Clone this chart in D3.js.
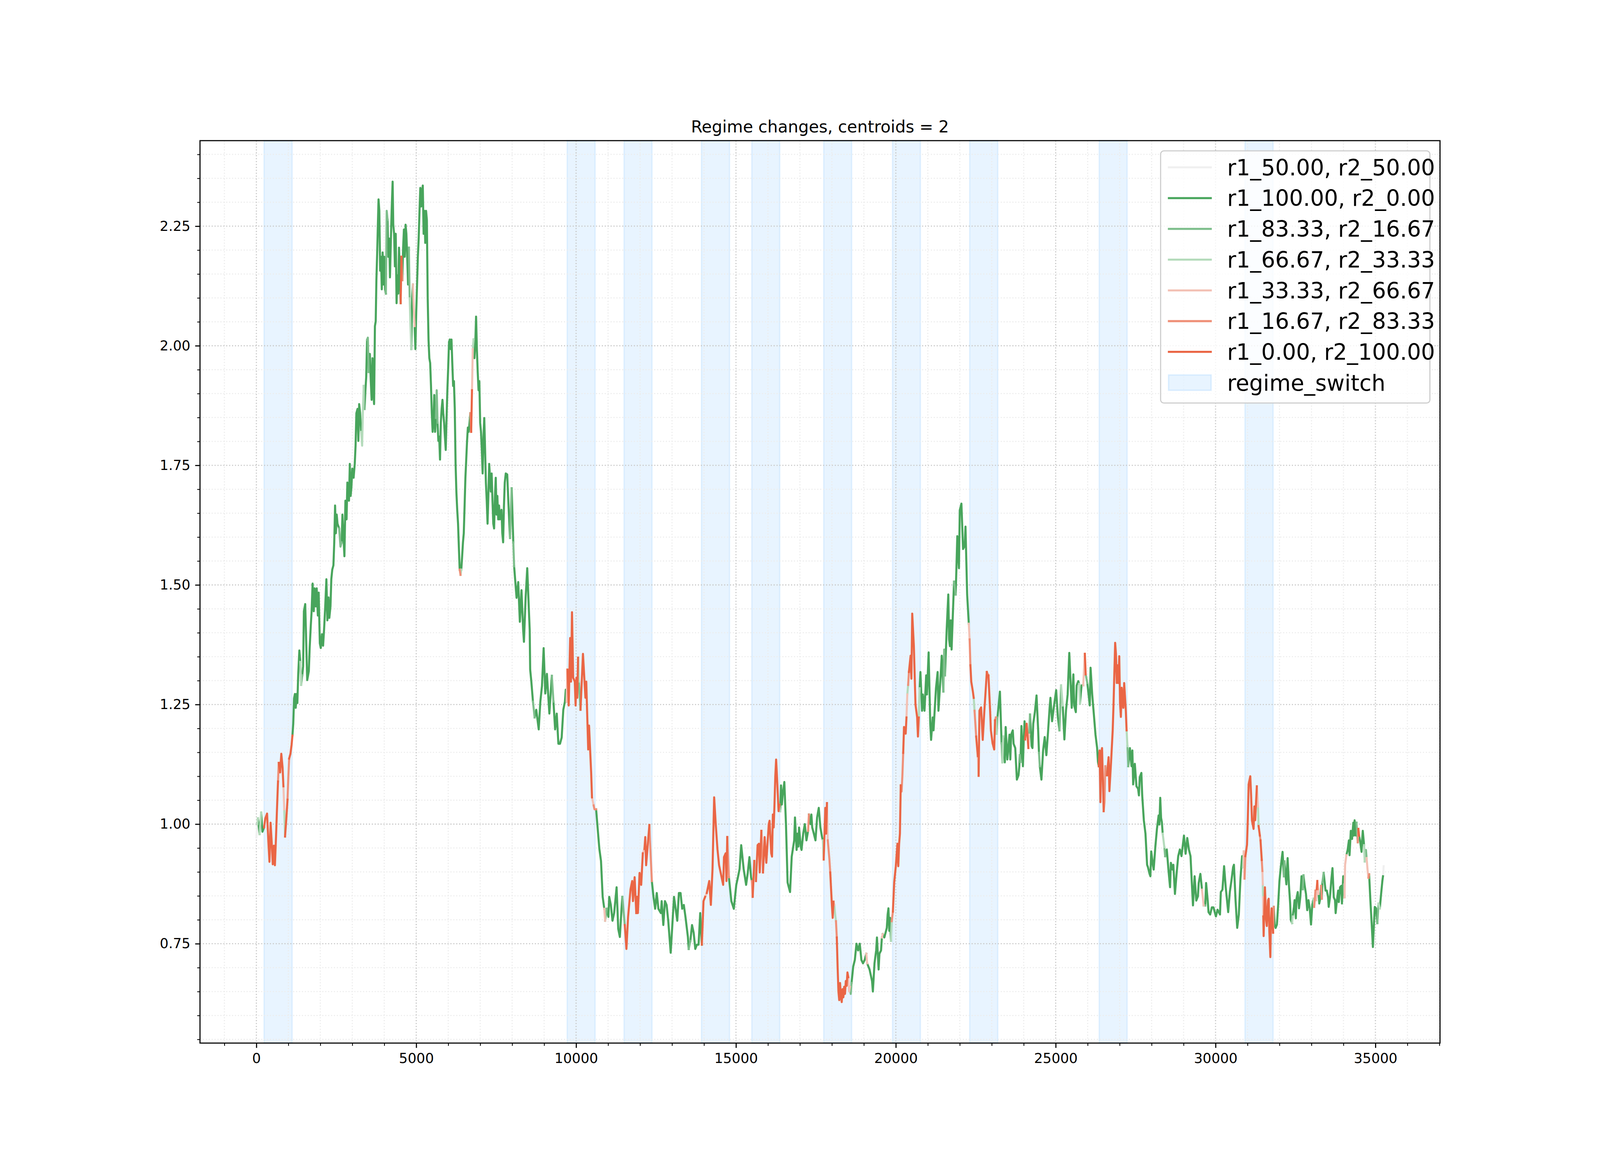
<!DOCTYPE html>
<html><head><meta charset="utf-8">
<script src="https://cdn.jsdelivr.net/npm/d3@7/dist/d3.min.js"></script>
<style>html,body{margin:0;padding:0;background:#fff;overflow:hidden}svg{display:block}</style>
</head><body>
<svg id="chart"></svg>
<script>
// ---------------- data ----------------
const chartTitle = "Regime changes, centroids = 2";
const seriesLabels = ["r1_50.00, r2_50.00","r1_100.00, r2_0.00","r1_83.33, r2_16.67","r1_66.67, r2_33.33","r1_33.33, r2_66.67","r1_16.67, r2_83.33","r1_0.00, r2_100.00"];
const seriesColors = ["#f0f0f0","#48a55c","#7dbe8b","#b4dbbb","#f3c1b5","#ef9078","#ea6645"];
const spanLabel = "regime_switch";
const switchStart = [240, 9720, 11500, 13920, 15495, 17745, 19895, 22310, 26360, 30920];
const switchEnd   = [1120, 10595, 12375, 14800, 16370, 18620, 20770, 23190, 27235, 31800];
const xTickValues = [0, 5000, 10000, 15000, 20000, 25000, 30000, 35000];
const yTickValues = [0.75, 1.00, 1.25, 1.50, 1.75, 2.00, 2.25];

// price path [sample index, value]
const trace0to7800 = [[0,0.972],[30,1.000],[50,1.012],[100,0.979],[150,1.024],[190,0.984],[240,0.993],[280,1.012],[335,1.022],[375,0.964],[410,0.921],[445,1.003],[478,0.964],[513,0.916],[548,0.955],[580,0.914],[615,0.974],[640,1.022],[677,1.089],[700,1.128],[743,1.108],[780,1.147],[820,1.118],[846,1.079],[872,1.031],[897,0.974],[938,1.012],[974,1.051],[1000,1.099],[1026,1.137],[1066,1.147],[1102,1.166],[1128,1.185],[1154,1.210],[1180,1.263],[1205,1.272],[1231,1.243],[1257,1.272],[1282,1.253],[1308,1.311],[1344,1.363],[1374,1.339],[1400,1.291],[1436,1.311],[1462,1.330],[1487,1.445],[1528,1.460],[1564,1.368],[1590,1.301],[1615,1.310],[1641,1.320],[1667,1.368],[1703,1.416],[1728,1.445],[1759,1.503],[1795,1.445],[1820,1.493],[1856,1.455],[1887,1.493],[1923,1.436],[1949,1.484],[1985,1.378],[2015,1.368],[2051,1.397],[2087,1.373],[2118,1.407],[2154,1.455],[2190,1.512],[2221,1.426],[2256,1.474],[2282,1.431],[2318,1.455],[2344,1.512],[2374,1.532],[2410,1.541],[2436,1.589],[2462,1.666],[2487,1.608],[2513,1.647],[2538,1.628],[2590,1.618],[2631,1.580],[2667,1.589],[2692,1.647],[2718,1.608],[2754,1.560],[2785,1.676],[2821,1.637],[2846,1.714],[2872,1.705],[2897,1.676],[2923,1.753],[2949,1.686],[2974,1.705],[3000,1.743],[3041,1.724],[3077,1.753],[3103,1.791],[3128,1.859],[3164,1.868],[3190,1.801],[3215,1.878],[3246,1.859],[3277,1.820],[3308,1.791],[3333,1.868],[3359,1.916],[3385,1.868],[3410,1.906],[3436,1.935],[3462,2.012],[3487,2.017],[3513,1.945],[3549,1.983],[3579,1.926],[3605,1.887],[3631,1.974],[3656,1.907],[3682,1.878],[3708,2.041],[3733,2.051],[3754,2.137],[3779,2.195],[3795,2.238],[3821,2.306],[3846,2.282],[3872,2.157],[3897,2.186],[3923,2.118],[3949,2.195],[3974,2.128],[4000,2.186],[4026,2.118],[4051,2.109],[4077,2.282],[4103,2.263],[4128,2.186],[4154,2.224],[4179,2.143],[4205,2.215],[4231,2.282],[4262,2.343],[4282,2.253],[4308,2.234],[4333,2.166],[4359,2.234],[4385,2.089],[4410,2.147],[4436,2.109],[4462,2.205],[4487,2.157],[4513,2.089],[4538,2.186],[4564,2.137],[4590,2.205],[4615,2.243],[4641,2.186],[4667,2.253],[4692,2.234],[4718,2.186],[4744,2.128],[4769,2.205],[4795,2.099],[4821,2.041],[4846,1.993],[4872,2.099],[4897,2.128],[4923,2.080],[4949,2.041],[4974,1.993],[5000,2.070],[5026,2.128],[5051,2.186],[5077,2.224],[5103,2.282],[5128,2.330],[5154,2.291],[5179,2.320],[5205,2.335],[5231,2.234],[5256,2.282],[5282,2.215],[5308,2.282],[5333,2.263],[5359,2.099],[5385,2.012],[5410,1.974],[5436,1.964],[5462,1.916],[5487,1.859],[5513,1.820],[5538,1.839],[5564,1.897],[5590,1.820],[5615,1.849],[5641,1.907],[5667,1.839],[5692,1.801],[5718,1.810],[5744,1.762],[5769,1.839],[5795,1.868],[5821,1.887],[5846,1.859],[5872,1.839],[5897,1.810],[5923,1.782],[5949,1.849],[5974,1.907],[6000,1.955],[6026,2.008],[6051,2.013],[6077,1.993],[6103,2.013],[6128,1.964],[6154,1.916],[6179,1.926],[6205,1.869],[6231,1.753],[6256,1.694],[6282,1.657],[6308,1.628],[6333,1.580],[6359,1.532],[6385,1.521],[6410,1.532],[6436,1.560],[6462,1.589],[6487,1.608],[6513,1.666],[6538,1.724],[6564,1.762],[6590,1.801],[6615,1.829],[6641,1.820],[6667,1.839],[6692,1.859],[6718,1.820],[6744,1.907],[6769,1.993],[6795,2.013],[6821,1.974],[6846,2.003],[6872,2.061],[6897,1.993],[6923,1.945],[6949,1.907],[6974,1.926],[7000,1.839],[7026,1.820],[7051,1.782],[7077,1.733],[7103,1.810],[7128,1.849],[7154,1.782],[7179,1.714],[7205,1.676],[7231,1.628],[7256,1.686],[7282,1.753],[7308,1.724],[7333,1.695],[7359,1.733],[7385,1.676],[7410,1.628],[7436,1.618],[7462,1.686],[7487,1.724],[7513,1.647],[7538,1.686],[7564,1.637],[7590,1.666],[7615,1.637],[7667,1.657],[7692,1.608],[7718,1.589],[7744,1.666],[7769,1.714],[7800,1.733]];
const trace7800to15700 = [[7846,1.731],[7882,1.673],[7933,1.598],[7985,1.702],[8036,1.589],[8062,1.539],[8138,1.473],[8190,1.506],[8241,1.423],[8292,1.489],[8344,1.406],[8369,1.381],[8421,1.473],[8472,1.535],[8523,1.448],[8549,1.406],[8564,1.323],[8600,1.298],[8651,1.256],[8703,1.223],[8754,1.239],[8831,1.198],[8882,1.256],[8933,1.289],[8985,1.368],[9036,1.273],[9087,1.314],[9164,1.231],[9241,1.310],[9292,1.256],[9344,1.198],[9395,1.231],[9446,1.168],[9497,1.168],[9549,1.181],[9600,1.239],[9651,1.256],[9677,1.281],[9703,1.256],[9728,1.323],[9769,1.248],[9815,1.389],[9841,1.298],[9872,1.443],[9908,1.306],[9959,1.298],[9985,1.248],[10010,1.306],[10036,1.264],[10062,1.348],[10087,1.298],[10138,1.239],[10215,1.356],[10292,1.264],[10318,1.298],[10379,1.156],[10405,1.206],[10472,1.106],[10497,1.056],[10549,1.039],[10574,1.031],[10626,1.031],[10677,0.989],[10728,0.948],[10779,0.923],[10831,0.848],[10882,0.823],[10908,0.798],[10959,0.823],[11010,0.806],[11036,0.848],[11087,0.831],[11138,0.798],[11190,0.814],[11267,0.868],[11318,0.781],[11369,0.764],[11421,0.823],[11446,0.848],[11523,0.789],[11574,0.739],[11626,0.806],[11703,0.864],[11754,0.881],[11779,0.839],[11831,0.889],[11882,0.814],[11908,0.848],[11933,0.814],[11985,0.898],[12036,0.873],[12087,0.939],[12138,0.948],[12164,0.973],[12190,0.914],[12241,0.956],[12292,0.998],[12318,0.956],[12369,0.881],[12421,0.848],[12472,0.823],[12523,0.856],[12574,0.823],[12651,0.814],[12677,0.839],[12728,0.789],[12779,0.839],[12831,0.831],[12882,0.798],[12959,0.731],[13010,0.789],[13062,0.848],[13113,0.823],[13164,0.798],[13215,0.856],[13267,0.856],[13318,0.823],[13369,0.831],[13421,0.806],[13497,0.764],[13523,0.739],[13574,0.756],[13626,0.789],[13677,0.773],[13728,0.739],[13779,0.748],[13831,0.748],[13882,0.814],[13933,0.748],[13985,0.839],[14036,0.848],[14087,0.856],[14164,0.881],[14215,0.831],[14267,0.906],[14318,1.056],[14369,0.998],[14421,0.948],[14472,0.914],[14523,0.898],[14600,0.873],[14626,0.931],[14677,0.939],[14703,0.881],[14728,0.973],[14779,0.889],[14856,0.839],[14933,0.823],[15010,0.873],[15062,0.889],[15113,0.906],[15164,0.956],[15241,0.906],[15318,0.873],[15369,0.898],[15421,0.931],[15472,0.889],[15497,0.881],[15523,0.848],[15574,0.923],[15626,0.881],[15677,0.956]];
const trace15700to23500 = [[15718,0.959],[15744,0.899],[15795,0.986],[15846,0.899],[15897,0.973],[15949,0.919],[16026,1.000],[16051,1.007],[16103,0.939],[16128,0.932],[16154,1.020],[16180,0.993],[16205,1.041],[16231,1.101],[16256,1.135],[16282,1.101],[16333,1.027],[16359,1.041],[16385,1.027],[16410,1.081],[16436,1.041],[16462,1.061],[16513,1.088],[16564,1.000],[16615,0.878],[16641,0.871],[16692,0.858],[16744,0.932],[16821,0.966],[16846,1.014],[16897,0.946],[16923,0.980],[16949,0.953],[16974,0.993],[17026,0.953],[17051,0.946],[17103,0.980],[17154,1.000],[17205,0.966],[17256,0.986],[17282,1.020],[17333,1.000],[17359,1.020],[17385,0.993],[17436,0.980],[17487,0.966],[17538,1.014],[17590,1.034],[17641,0.993],[17692,0.973],[17718,0.966],[17744,0.926],[17795,1.034],[17821,0.980],[17846,1.044],[17872,0.966],[17923,0.926],[17949,0.899],[18000,0.831],[18026,0.804],[18051,0.838],[18077,0.831],[18103,0.811],[18128,0.797],[18154,0.763],[18180,0.700],[18205,0.650],[18230,0.632],[18256,0.668],[18282,0.640],[18308,0.628],[18334,0.655],[18359,0.638],[18385,0.660],[18410,0.645],[18436,0.672],[18462,0.662],[18487,0.690],[18513,0.680],[18539,0.650],[18564,0.660],[18590,0.645],[18615,0.668],[18667,0.702],[18718,0.716],[18769,0.750],[18821,0.736],[18872,0.750],[18923,0.716],[18974,0.709],[19026,0.716],[19077,0.729],[19103,0.709],[19179,0.696],[19256,0.672],[19282,0.650],[19333,0.709],[19385,0.736],[19410,0.763],[19462,0.696],[19487,0.729],[19538,0.736],[19564,0.763],[19590,0.770],[19641,0.763],[19718,0.783],[19744,0.811],[19769,0.824],[19795,0.777],[19821,0.804],[19846,0.756],[19872,0.797],[19908,0.817],[19949,0.878],[20000,0.912],[20051,0.959],[20077,0.912],[20103,0.959],[20128,0.980],[20154,1.081],[20180,1.068],[20205,1.101],[20231,1.149],[20256,1.203],[20308,1.189],[20333,1.223],[20359,1.271],[20385,1.291],[20410,1.318],[20462,1.352],[20487,1.304],[20513,1.440],[20564,1.372],[20615,1.250],[20667,1.223],[20692,1.183],[20718,1.223],[20744,1.284],[20769,1.318],[20821,1.237],[20846,1.271],[20897,1.237],[20949,1.311],[20974,1.271],[21026,1.359],[21077,1.210],[21103,1.176],[21154,1.223],[21179,1.196],[21256,1.284],[21308,1.318],[21333,1.237],[21385,1.291],[21436,1.352],[21487,1.277],[21513,1.365],[21538,1.311],[21590,1.406],[21641,1.480],[21667,1.386],[21692,1.372],[21718,1.426],[21744,1.365],[21821,1.507],[21872,1.480],[21923,1.602],[21974,1.535],[22000,1.656],[22051,1.670],[22103,1.575],[22154,1.582],[22179,1.622],[22231,1.480],[22282,1.419],[22308,1.386],[22333,1.332],[22359,1.298],[22410,1.277],[22436,1.264],[22462,1.237],[22513,1.183],[22564,1.142],[22590,1.101],[22615,1.237],[22667,1.244],[22718,1.176],[22769,1.237],[22821,1.291],[22846,1.318],[22897,1.311],[22949,1.237],[22974,1.196],[23026,1.169],[23077,1.156],[23103,1.217],[23128,1.223],[23154,1.189],[23179,1.223],[23256,1.277],[23308,1.169],[23333,1.129],[23359,1.183],[23410,1.129],[23436,1.203],[23487,1.135]];
const trace23500to31300 = [[23555,1.187],[23581,1.135],[23607,1.187],[23658,1.196],[23683,1.168],[23735,1.159],[23786,1.093],[23837,1.102],[23863,1.121],[23878,1.144],[23899,1.130],[23929,1.205],[23975,1.121],[24001,1.177],[24027,1.215],[24042,1.177],[24093,1.210],[24145,1.159],[24170,1.187],[24196,1.229],[24247,1.163],[24273,1.159],[24298,1.210],[24349,1.234],[24401,1.269],[24452,1.196],[24477,1.149],[24503,1.121],[24554,1.093],[24606,1.154],[24657,1.182],[24708,1.144],[24759,1.191],[24810,1.243],[24836,1.264],[24887,1.215],[24939,1.243],[25015,1.280],[25067,1.224],[25118,1.196],[25169,1.290],[25220,1.248],[25272,1.177],[25323,1.238],[25374,1.271],[25425,1.358],[25477,1.280],[25502,1.243],[25553,1.313],[25579,1.248],[25630,1.234],[25656,1.290],[25707,1.299],[25733,1.293],[25758,1.252],[25809,1.290],[25861,1.290],[25912,1.356],[25938,1.313],[25989,1.295],[26066,1.248],[26091,1.327],[26142,1.271],[26194,1.229],[26245,1.187],[26296,1.159],[26322,1.130],[26347,1.121],[26373,1.154],[26399,1.046],[26424,1.149],[26450,1.159],[26501,1.027],[26527,1.046],[26552,1.121],[26604,1.102],[26655,1.140],[26680,1.069],[26732,1.130],[26783,1.196],[26808,1.248],[26860,1.379],[26885,1.356],[26911,1.295],[26937,1.332],[26962,1.295],[26988,1.351],[27013,1.252],[27039,1.224],[27065,1.285],[27116,1.243],[27142,1.295],[27193,1.238],[27218,1.196],[27244,1.163],[27270,1.121],[27321,1.159],[27372,1.121],[27398,1.154],[27423,1.083],[27475,1.126],[27526,1.079],[27577,1.074],[27603,1.060],[27629,1.098],[27680,1.107],[27706,1.060],[27757,1.008],[27808,0.980],[27859,0.915],[27885,0.910],[27936,0.896],[27962,0.891],[27988,0.943],[28039,0.915],[28065,0.905],[28116,0.952],[28167,0.990],[28219,1.018],[28244,0.999],[28270,1.055],[28296,1.013],[28321,1.004],[28347,0.980],[28398,0.952],[28424,0.933],[28475,0.947],[28526,0.905],[28577,0.868],[28603,0.919],[28654,0.905],[28680,0.915],[28730,0.854],[28781,0.896],[28832,0.933],[28884,0.947],[28935,0.933],[29012,0.976],[29063,0.938],[29115,0.971],[29166,0.947],[29217,0.933],[29268,0.863],[29294,0.830],[29345,0.891],[29397,0.840],[29448,0.849],[29473,0.877],[29525,0.896],[29576,0.863],[29627,0.830],[29678,0.830],[29704,0.877],[29755,0.840],[29780,0.816],[29832,0.811],[29883,0.826],[29934,0.826],[30011,0.807],[30062,0.821],[30139,0.811],[30165,0.858],[30216,0.863],[30267,0.912],[30318,0.868],[30395,0.816],[30446,0.858],[30497,0.882],[30549,0.910],[30575,0.915],[30626,0.840],[30677,0.783],[30728,0.811],[30779,0.886],[30830,0.933],[30856,0.910],[30881,0.943],[30907,0.886],[30933,0.933],[30984,0.957],[31010,1.013],[31035,1.083],[31086,1.100],[31112,1.060],[31138,1.008],[31189,0.990],[31215,1.037],[31240,1.008],[31291,1.079]];
const trace31300to35257 = [[31307,1.064],[31327,1.037],[31346,0.996],[31386,0.976],[31406,0.966],[31445,0.925],[31465,0.902],[31477,0.874],[31485,0.847],[31493,0.807],[31504,0.766],[31544,0.868],[31583,0.800],[31603,0.787],[31642,0.841],[31662,0.844],[31682,0.776],[31714,0.722],[31729,0.790],[31753,0.824],[31781,0.790],[31800,0.773],[31820,0.827],[31848,0.790],[31879,0.783],[31919,0.790],[31958,0.831],[31998,0.881],[32037,0.908],[32077,0.932],[32096,0.942],[32136,0.891],[32156,0.922],[32195,0.888],[32215,0.874],[32254,0.929],[32294,0.874],[32333,0.834],[32353,0.800],[32393,0.793],[32412,0.807],[32452,0.827],[32472,0.841],[32511,0.803],[32531,0.844],[32571,0.858],[32610,0.824],[32650,0.847],[32689,0.891],[32729,0.864],[32749,0.893],[32788,0.871],[32828,0.854],[32867,0.820],[32907,0.841],[32946,0.824],[32986,0.790],[33025,0.831],[33065,0.844],[33085,0.827],[33124,0.861],[33144,0.841],[33164,0.864],[33183,0.881],[33203,0.864],[33223,0.854],[33243,0.834],[33282,0.847],[33302,0.871],[33322,0.844],[33341,0.878],[33381,0.898],[33440,0.861],[33480,0.861],[33519,0.847],[33539,0.827],[33578,0.847],[33618,0.881],[33657,0.908],[33697,0.847],[33736,0.841],[33756,0.814],[33796,0.841],[33835,0.861],[33855,0.837],[33894,0.868],[33934,0.871],[33953,0.834],[33993,0.891],[34013,0.874],[34033,0.847],[34052,0.915],[34092,0.935],[34131,0.946],[34171,0.966],[34191,0.935],[34230,0.986],[34270,0.969],[34309,1.003],[34329,0.976],[34349,1.008],[34388,0.976],[34408,1.003],[34447,0.962],[34467,0.990],[34487,0.976],[34526,0.962],[34566,0.942],[34586,0.969],[34605,0.986],[34645,0.956],[34664,0.922],[34704,0.946],[34724,0.929],[34763,0.898],[34783,0.888],[34803,0.895],[34842,0.841],[34882,0.793],[34921,0.743],[34941,0.773],[34980,0.827],[35020,0.824],[35059,0.793],[35099,0.834],[35138,0.824],[35178,0.854],[35217,0.881],[35237,0.891],[35257,0.912]];

// regime of each stretch: [first sample index, series number]
const regimeRuns = [[0,0],[20,3],[50,1],[100,3],[150,1],[240,6],[677,5],[700,6],[846,4],[872,3],[897,6],[974,5],[1026,6],[1128,1],[1374,3],[1400,2],[1436,1],[2590,2],[2667,1],[3277,3],[3359,2],[3385,1],[3462,2],[3513,1],[4051,2],[4103,1],[4513,6],[4538,5],[4564,1],[4769,2],[4795,3],[4846,1],[4897,4],[4949,1],[5615,2],[5667,1],[6359,5],[6385,3],[6410,1],[6692,5],[6718,6],[6744,4],[6769,3],[6795,1],
[7933,2],[7985,1],[8036,2],[8062,1],[8651,2],[8703,1],[9241,2],[9292,1],[9703,4],[9728,6],[10062,3],[10087,2],[10138,6],[10497,4],[10549,5],[10626,1],[10882,4],[10908,2],[10959,1],[11446,2],[11523,6],[11882,4],[11908,6],[12087,4],[12138,6],[12292,5],[12369,1],[13523,2],[13574,1],[13933,6],[14036,4],[14087,6],[14728,5],[14779,1],
[15497,5],[15523,6],[15574,3],[15626,6],[15795,5],[15846,6],[16359,3],[16385,1],[17256,5],[17282,1],[17718,3],[17744,6],[17846,4],[17872,5],[17949,6],[18051,4],[18077,3],[18128,5],[18154,6],[18513,4],[18564,2],[18615,1],[19077,4],[19103,1],[19564,4],[19590,1],[19846,3],[19872,5],[19908,6],[20154,5],[20231,6],[20333,4],[20359,3],[20385,5],[20410,6],[20718,3],[20744,1],[21487,2],[21538,1],[21821,2],[21872,1],[22282,4],[22308,5],[22333,6],[22436,3],[22462,5],[22513,6],[22564,4],[22590,6],[22846,5],[22897,6],[23103,5],[23128,3],[23154,2],[23179,1],[23308,2],[23333,3],[23359,1],
[23878,2],[23899,1],[24042,6],[24145,4],[24170,2],[24196,1],[24477,2],[24503,1],[25118,2],[25169,3],[25220,1],[25733,3],[25758,1],[25861,4],[25912,6],[25938,2],[25989,1],[26347,6],[26501,5],[26552,3],[26604,6],[27218,3],[27244,2],[27270,1],[28347,3],[28398,2],[28424,1],[29576,4],[29627,2],[29678,1],[30856,3],[30881,4],[30907,5],[30933,6],[31291,4],
[31327,3],[31346,6],[31386,5],[31406,6],[31445,5],[31465,4],[31477,3],[31485,4],[31493,6],[31800,5],[31820,1],[32136,2],[32156,1],[32393,3],[32412,1],[32729,2],[32749,1],[33065,3],[33085,5],[33124,2],[33144,4],[33164,6],[33183,5],[33203,4],[33223,1],[33302,5],[33322,1],[33341,2],[33381,1],[34013,2],[34033,4],[34092,1],[34408,2],[34447,5],[34467,6],[34487,1],[34645,3],[34664,2],[34724,4],[34783,5],[34803,1],[35059,2],[35099,3],[35138,1],[35237,0]];

// ---------------- layout (figure fractions, like the original figure) ----------------
const W = window.innerWidth || 4854, H = window.innerHeight || 3000;
const S = Math.min(W / 4854, H / 3000);      // size factor for fonts / strokes
const PT = 300 / 72 * S;                       // one typographic point in pixels
const L = 0.125 * W, R = 0.9 * W, T = 0.12 * H, B = 0.89 * H;
const svg = d3.select("#chart").attr("width", W).attr("height", H);
svg.append("rect").attr("width", W).attr("height", H).attr("fill", "#fff");

const points = [].concat(trace0to7800, trace7800to15700, trace15700to23500, trace23500to31300, trace31300to35257);
const xExt = d3.extent(points, d => d[0]);
const yExt = d3.extent(points, d => d[1]);
const xPad = (xExt[1]-xExt[0])*0.05, yPad = (yExt[1]-yExt[0])*0.05;
const x = d3.scaleLinear().domain([xExt[0]-xPad, xExt[1]+xPad]).range([L, R]);
const y = d3.scaleLinear().domain([yExt[0]-yPad, yExt[1]+yPad]).range([B, T]);

// regime switch spans
const spanG = svg.append("g");
switchStart.forEach((s, i) => {
  spanG.append("rect")
    .attr("x", x(s)).attr("y", T)
    .attr("width", x(switchEnd[i]) - x(s)).attr("height", B - T)
    .attr("fill", "rgba(30,144,255,0.1)")
    .attr("stroke", "rgba(30,144,255,0.1)").attr("stroke-width", 1*PT);
});

// grid
const xMinor = d3.range(-1000, 37001, 1000).filter(v => v % 5000 !== 0 && v >= x.domain()[0] && v <= x.domain()[1]);
const yMinor = d3.range(11, 49).map(k => k*0.05).filter(v => Math.abs(v*4 - Math.round(v*4)) > 1e-6 && v >= y.domain()[0] && v <= y.domain()[1]);
const gridG = svg.append("g");
const dash = `${0.8*PT},${1.65*0.8*PT}`;
xMinor.forEach(v => gridG.append("line").attr("x1", x(v)).attr("x2", x(v)).attr("y1", T).attr("y2", B)
  .attr("stroke", "#ececec").attr("stroke-width", 0.8*PT).attr("stroke-dasharray", dash));
yMinor.forEach(v => gridG.append("line").attr("y1", y(v)).attr("y2", y(v)).attr("x1", L).attr("x2", R)
  .attr("stroke", "#ececec").attr("stroke-width", 0.8*PT).attr("stroke-dasharray", dash));
xTickValues.forEach(v => gridG.append("line").attr("x1", x(v)).attr("x2", x(v)).attr("y1", T).attr("y2", B)
  .attr("stroke", "#c8c8c8").attr("stroke-width", 0.8*PT).attr("stroke-dasharray", dash));
yTickValues.forEach(v => gridG.append("line").attr("y1", y(v)).attr("y2", y(v)).attr("x1", L).attr("x2", R)
  .attr("stroke", "#c8c8c8").attr("stroke-width", 0.8*PT).attr("stroke-dasharray", dash));

// coloured line segments
function regimeAt(idx) {
  let c = regimeRuns[0][1];
  for (const r of regimeRuns) { if (r[0] <= idx) c = r[1]; else break; }
  return c;
}
const runs = [];
let cur = null;
for (let i = 0; i < points.length - 1; i++) {
  const c = regimeAt(points[i][0]);
  if (!cur || cur.code !== c) { cur = {code: c, pts: [points[i]]}; runs.push(cur); }
  cur.pts.push(points[i+1]);
}
const line = d3.line().x(d => x(d[0])).y(d => y(d[1]));
const lineG = svg.append("g");
for (let c = 0; c < seriesColors.length; c++) {
  runs.filter(r => r.code === c).forEach(r => {
    lineG.append("path").attr("d", line(r.pts)).attr("fill", "none")
      .attr("stroke", seriesColors[c]).attr("stroke-width", 1.5*PT)
      .attr("stroke-linejoin", "round").attr("stroke-linecap", "square");
  });
}

// axes
const font = "DejaVu Sans, sans-serif";
const xAxis = svg.append("g").attr("transform", `translate(0,${B})`)
  .call(d3.axisBottom(x).tickValues(xTickValues).tickFormat(d3.format("d")).tickSize(3.5*PT).tickPadding(3.5*PT));
const xAxisMinor = svg.append("g").attr("transform", `translate(0,${B})`)
  .call(d3.axisBottom(x).tickValues(xMinor).tickFormat("").tickSize(2*PT));
const yAxis = svg.append("g").attr("transform", `translate(${L},0)`)
  .call(d3.axisLeft(y).tickValues(yTickValues).tickFormat(d3.format(".2f")).tickSize(3.5*PT).tickPadding(3.5*PT));
const yAxisMinor = svg.append("g").attr("transform", `translate(${L},0)`)
  .call(d3.axisLeft(y).tickValues(yMinor).tickFormat("").tickSize(2*PT));
[xAxis, xAxisMinor, yAxis, yAxisMinor].forEach(g => g.select(".domain").remove());
[xAxis, yAxis].forEach(g => {
  g.selectAll(".tick line").attr("stroke", "#000").attr("stroke-width", 0.8*PT);
  g.selectAll(".tick text").attr("font-family", font).attr("font-size", 10*PT).attr("fill", "#000");
});
[xAxisMinor, yAxisMinor].forEach(g => g.selectAll(".tick line").attr("stroke", "#000").attr("stroke-width", 0.6*PT));
xAxis.selectAll(".tick text").attr("dy", "0.76em");

// spines
svg.append("rect").attr("x", L).attr("y", T).attr("width", R - L).attr("height", B - T)
  .attr("fill", "none").attr("stroke", "#000").attr("stroke-width", 0.8*PT);

// title
svg.append("text").attr("x", (L + R)/2).attr("y", T - 6*PT)
  .attr("text-anchor", "middle").attr("font-family", font).attr("font-size", 12*PT)
  .attr("fill", "#000").text(chartTitle);

// legend (upper right, anchored to the axes corner)
const fs = 16*PT;                      // legend font size
const lgW = 817*S, lgH = 765*S;
const lgX = R - 30.6*S - lgW, lgY = T + 31*S;
const rowH = 93.3*S, row0 = lgY + 50*S;
const hx0 = lgX + 22*S, hx1 = hx0 + 2*fs, tx = lgX + 202*S;
const lg = svg.append("g");
lg.append("rect").attr("x", lgX).attr("y", lgY).attr("width", lgW).attr("height", lgH)
  .attr("rx", 10*S).attr("ry", 10*S).attr("fill", "rgba(255,255,255,0.8)")
  .attr("stroke", "#cccccc").attr("stroke-width", 0.8*PT);
seriesLabels.forEach((lab, i) => {
  const cy = row0 + i*rowH;
  lg.append("line").attr("x1", hx0).attr("x2", hx1).attr("y1", cy).attr("y2", cy)
    .attr("stroke", seriesColors[i]).attr("stroke-width", 1.5*PT);
  lg.append("text").attr("x", tx).attr("y", cy + 0.36*fs).attr("font-family", font)
    .attr("font-size", fs).attr("fill", "#000").text(lab);
});
{
  const cy = row0 + 7*rowH;
  lg.append("rect").attr("x", hx0 + 2*S).attr("y", cy - 0.35*fs).attr("width", 2*fs - 4*S).attr("height", 0.7*fs)
    .attr("fill", "rgba(30,144,255,0.1)").attr("stroke", "rgba(30,144,255,0.12)").attr("stroke-width", 1*PT);
  lg.append("text").attr("x", tx).attr("y", cy + 0.36*fs).attr("font-family", font)
    .attr("font-size", fs).attr("fill", "#000").text(spanLabel);
}
</script>
</body></html>
